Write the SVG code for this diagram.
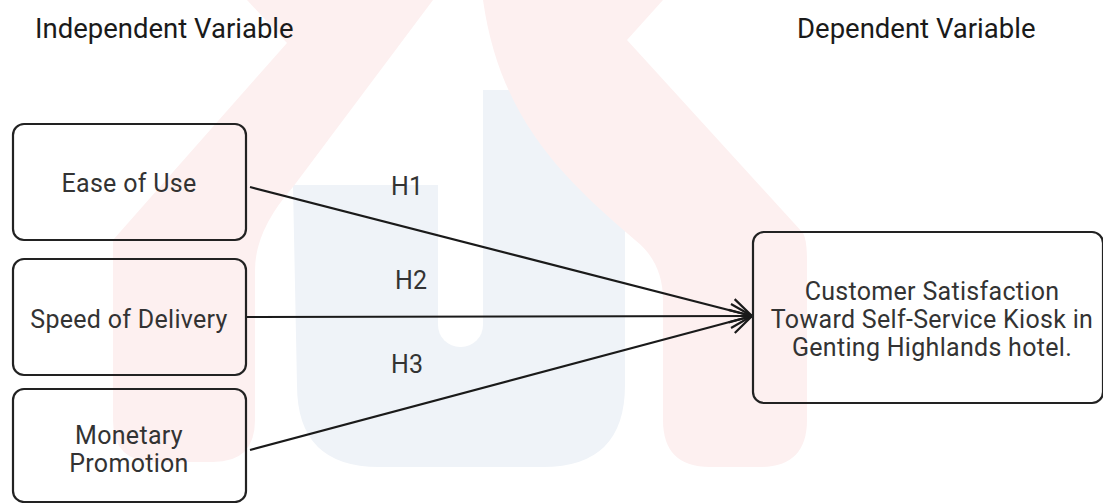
<svg xmlns="http://www.w3.org/2000/svg" width="1103" height="503" viewBox="0 0 1103 503">
<style>
.box{fill:none;stroke:#222;stroke-width:2.2}
.lbl{font-family:Roboto,"Liberation Sans",sans-serif;font-size:25px;letter-spacing:0.3px;fill:#333;text-anchor:middle}
.hl{font-family:Roboto,"Liberation Sans",sans-serif;font-size:25px;fill:#333;text-anchor:middle}
.ttl{font-family:Roboto,"Liberation Sans",sans-serif;font-size:27.5px;fill:#1a1a1a}
.con{stroke:#1a1a1a;stroke-width:2.2;fill:none}
.wm-p{fill:#fdf0f0}
.wm-b{fill:#eff3f8}
</style>
<defs>
<marker id="arr" viewBox="-24 -14 26 28" markerWidth="26" markerHeight="28" refX="0" refY="0" orient="auto" markerUnits="userSpaceOnUse">
<path d="M-21,-12 L0,0 L-21,12" fill="none" stroke="#1a1a1a" stroke-width="2.2"/>
</marker>
</defs>
<rect width="1103" height="503" fill="#fff"/>
<g id="watermark">
<path class="wm-b" d="M293,185 L440,185 L440,90 L625,90 L625,385 Q625,467 543,467 L379,467 Q297,467 297,385 Z"/>
<path class="wm-p" d="M247,0 L433,0 L293,187 Q255,230 255,270 L255,420 Q255,462 213,462 L155,462 Q113,462 113,420 L113,240 L287,43 Z"/>
<path class="wm-p" d="M483,0 L663,0 L627,40 L803,233 Q807,240 807,260 L807,420 Q807,467 760,467 L710,467 Q663,467 663,420 L663,300 Q663,262 635,240 C565,180 500,120 483,0 Z"/>
<rect x="438" y="-30" width="45" height="377" rx="22" fill="#fff"/>
</g>
<text class="ttl" x="35" y="38">Independent Variable</text>
<text class="ttl" x="797" y="38">Dependent Variable</text>
<g id="connectors">
<line class="con" x1="250" y1="187" x2="752" y2="316" marker-end="url(#arr)"/>
<line class="con" x1="247" y1="317" x2="752" y2="316" marker-end="url(#arr)"/>
<line class="con" x1="250" y1="450" x2="752" y2="316" marker-end="url(#arr)"/>
<text class="hl" x="407" y="195">H1</text>
<text class="hl" x="411" y="289">H2</text>
<text class="hl" x="407" y="373">H3</text>
</g>
<g id="n-ease">
<rect class="box" x="13" y="124" width="233" height="116" rx="11"/>
<text class="lbl" x="129" y="192">Ease of Use</text>
</g>
<g id="n-speed">
<rect class="box" x="13" y="259" width="233" height="116" rx="11"/>
<text class="lbl" x="129" y="328">Speed of Delivery</text>
</g>
<g id="n-monetary">
<rect class="box" x="13" y="389" width="233" height="113" rx="11"/>
<text class="lbl" x="129" y="444">Monetary</text>
<text class="lbl" x="129" y="472">Promotion</text>
</g>
<g id="n-satisfaction">
<rect class="box" x="753" y="232" width="350" height="171" rx="11"/>
<text class="lbl" x="932" y="300">Customer Satisfaction</text>
<text class="lbl" x="932" y="328">Toward Self-Service Kiosk in</text>
<text class="lbl" x="932" y="356">Genting Highlands hotel.</text>
</g>
</svg>
